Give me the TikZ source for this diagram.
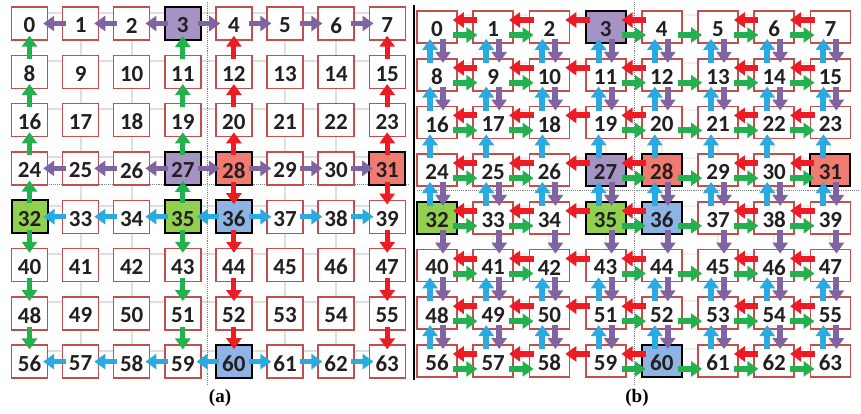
\documentclass[tikz,border=0pt]{standalone}
\usepackage{fontspec}
\newfontfamily\numfont{Carlito}
\newfontfamily\capfont{Liberation Serif}
\usepackage{xcolor}
\usepackage{tikz}
\usetikzlibrary{arrows.meta}
\pgfdeclarelayer{bg}
\pgfsetlayers{bg,main}

\definecolor{boxred}{RGB}{192,80,77}
\definecolor{hubpurple}{RGB}{165,147,196}
\definecolor{hubred}{RGB}{240,123,112}
\definecolor{hubgreen}{RGB}{146,208,80}
\definecolor{hubblue}{RGB}{141,180,226}
\definecolor{arrpurple}{RGB}{128,100,162}
\definecolor{arrred}{RGB}{237,28,36}
\definecolor{arrgreen}{RGB}{34,177,76}
\definecolor{arrblue}{RGB}{41,171,226}
\definecolor{numblack}{RGB}{35,31,32}

\tikzset{
  cell/.style={draw=boxred, line width=1.4pt, fill=white, inner sep=0pt},
  hub/.style={draw=black, line width=2pt, fill=#1},
  pick/.code={%
    \ifnum#1=3 \tikzset{hub=hubpurple}\fi
    \ifnum#1=27 \tikzset{hub=hubpurple}\fi
    \ifnum#1=28 \tikzset{hub=hubred}\fi
    \ifnum#1=31 \tikzset{hub=hubred}\fi
    \ifnum#1=32 \tikzset{hub=hubgreen}\fi
    \ifnum#1=35 \tikzset{hub=hubgreen}\fi
    \ifnum#1=36 \tikzset{hub=hubblue}\fi
    \ifnum#1=60 \tikzset{hub=hubblue}\fi
  },
  num/.style={font=\numfont\bfseries\fontsize{23}{23}\selectfont, text=numblack, inner sep=0pt, yshift=-2pt},
  panelcap/.style={font=\capfont\bfseries\fontsize{19}{19}\selectfont, inner sep=0pt},
  gridln/.style={gray!25, line width=2pt},
  sepdot/.style={gray, densely dotted, line width=0.9pt},
  arrA/.style={line width=5pt, -{Triangle[width=15pt,length=11pt]}, shorten <=-4pt, shorten >=-5pt},
  arrB/.style={line width=6pt, -{Triangle[width=15pt,length=11pt]}, shorten <=-5pt, shorten >=-5pt}
}

\begin{document}
\begin{tikzpicture}[x=1pt, y=-1pt]
  \useasboundingbox (0,0) rectangle (861,413);

  % Separatori
  \draw[sepdot] (207,2) -- (207,385);
  \draw[sepdot] (15,184) -- (410,184);
  \draw[sepdot] (634,2) -- (634,385);
  \draw[sepdot] (417,190) -- (858,190);
  \draw[line width=2.2pt] (414,5) -- (414,380);

  % Celle (a) e (b)
  \foreach \i in {0,...,63}{
    \pgfmathtruncatemacro\c{mod(\i,8)}
    \pgfmathtruncatemacro\r{div(\i,8)}
    \node[cell, minimum width=36pt, minimum height=33pt, pick=\i] (a\i) at (29.5+51.1*\c, 23.5+48.3*\r) {};
    \node[cell, line width=1.8pt, minimum width=40pt, minimum height=32pt, pick=\i] (b\i) at (437+56.2*\c, 27+47.7*\r) {};
  }

  % Griglia di sfondo
  \begin{pgfonlayer}{bg}
    \foreach \c in {0,...,7}{
      \pgfmathtruncatemacro\q{\c+56}
      \draw[gridln] (a\c.center) -- (a\q.center);
      \draw[gridln, gray!12] (b\c.center) -- (b\q.center);
    }
    \foreach \r in {0,...,7}{
      \pgfmathtruncatemacro\p{8*\r}
      \pgfmathtruncatemacro\q{8*\r+7}
      \draw[gridln] ([yshift=11pt]a\p.center) -- ([yshift=11pt]a\q.center);
      \draw[gridln, gray!12] ([yshift=12pt]b\p.center) -- ([yshift=12pt]b\q.center);
    }
  \end{pgfonlayer}

  % Percorsi (a)
  \foreach \p/\q in {1/0,2/1,3/2,3/4,4/5,5/6,6/7,25/24,26/25,27/26,27/28,28/29,29/30,30/31}
    \draw[arrA, arrpurple] (a\p) -- (a\q);
  \foreach \p/\q in {8/0,16/8,24/16,32/24,11/3,19/11,27/19,35/27,32/40,40/48,48/56,35/43,43/51,51/59}
    \draw[arrA, arrgreen] (a\p) -- (a\q);
  \foreach \p/\q in {12/4,20/12,28/20,15/7,23/15,31/23,28/36,36/44,44/52,52/60,31/39,39/47,47/55,55/63}
    \draw[arrA, arrred] (a\p) -- (a\q);
  \foreach \p/\q in {33/32,34/33,35/34,36/35,36/37,37/38,38/39,57/56,58/57,59/58,60/59,60/61,61/62,62/63}
    \draw[arrA, arrblue] (a\p) -- (a\q);

  % Canali (b)
  \foreach \r in {0,...,7}{
    \foreach \c in {0,1,2,3,5,6}{
      \pgfmathtruncatemacro\p{8*\r+\c}
      \pgfmathtruncatemacro\q{\p+1}
      \draw[arrB, arrred] ([yshift=7pt]b\q.west) -- ([yshift=7pt]b\p.east);
    }
    \foreach \c in {0,1,3,4,5,6}{
      \pgfmathtruncatemacro\p{8*\r+\c}
      \pgfmathtruncatemacro\q{\p+1}
      \draw[arrB, arrgreen] ([yshift=-8pt]b\p.east) -- ([yshift=-8pt]b\q.west);
    }
  }
  \foreach \c in {0,...,7}{
    \foreach \r in {0,1,2,3,5,6}{
      \pgfmathtruncatemacro\p{8*\r+\c}
      \pgfmathtruncatemacro\q{\p+8}
      \draw[arrB, arrblue] ([xshift=-7pt]b\q.north) -- ([xshift=-7pt]b\p.south);
    }
    \foreach \r in {0,1,3,4,5,6}{
      \pgfmathtruncatemacro\p{8*\r+\c}
      \pgfmathtruncatemacro\q{\p+8}
      \draw[arrB, arrpurple] ([xshift=6pt]b\p.south) -- ([xshift=6pt]b\q.north);
    }
  }

  % Numeri
  \foreach \i in {0,...,63}{
    \node[num] (ta\i) at (a\i) {\i};
    \node[num] (tb\i) at (b\i) {\i};
  }

  \node[panelcap] (capa) at (220,398) {(a)};
  \node[panelcap] (capb) at (637,398) {(b)};
\end{tikzpicture}
\end{document}
